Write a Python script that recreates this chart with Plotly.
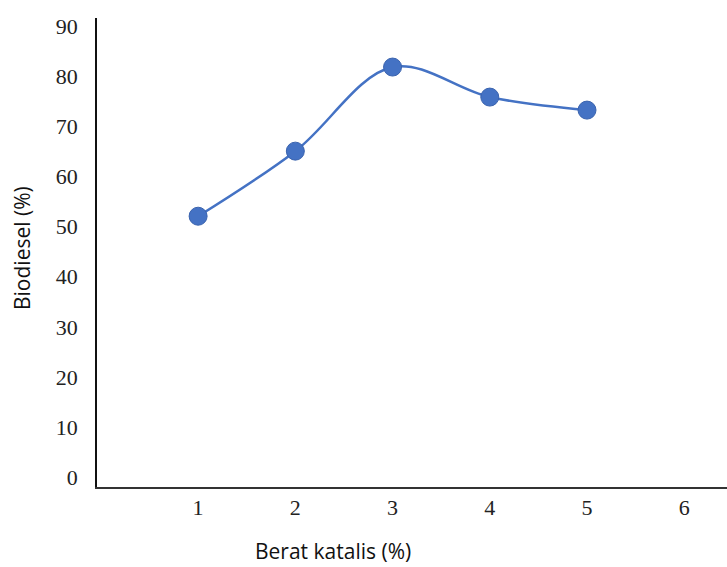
import plotly.graph_objects as go

berat_katalis = [1, 2, 3, 4, 5]
biodiesel = [52.1, 65.1, 81.9, 75.9, 73.3]
y_ticks = [0, 10, 20, 30, 40, 50, 60, 70, 80, 90]
x_ticks = [1, 2, 3, 4, 5, 6]

blue = "#4472C4"

fig = go.Figure()
fig.add_trace(go.Scatter(
    x=berat_katalis, y=biodiesel, mode="lines+markers",
    line=dict(color=blue, width=2.5, shape="spline", smoothing=1.0),
    marker=dict(color=blue, size=18, line=dict(color="#3A63AE", width=1)),
    showlegend=False,
))

serif = "Liberation Serif, Times New Roman, serif"
sans = "Open Sans, Noto Sans, sans-serif"

fig.update_layout(
    width=727, height=567,
    margin=dict(l=97, r=0, t=18, b=80),
    paper_bgcolor="white", plot_bgcolor="white",
    xaxis=dict(
        range=[-0.04, 6.44], tickvals=x_ticks, ticktext=[str(v) for v in x_ticks],
        showgrid=False, zeroline=False, showline=True, linecolor="#333333", linewidth=2,
        ticks="", ticklabelstandoff=0,
        tickfont=dict(family=serif, size=22, color="#222222"),
    ),
    yaxis=dict(
        range=[-2, 91.7], tickvals=y_ticks, ticktext=[str(v) for v in y_ticks],
        showgrid=False, zeroline=False, showline=True, linecolor="#111111", linewidth=1.5,
        ticks="", ticklabelstandoff=13,
        tickfont=dict(family=serif, size=22, color="#222222"),
    ),
    annotations=[
        dict(text="Berat katalis (%)", x=333, y=551, xref="paper", yref="paper",
             showarrow=False, font=dict(family=sans, size=21, color="#111111")),
        dict(text="Biodiesel (%)", x=22, y=248, xref="paper", yref="paper", textangle=-90,
             showarrow=False, font=dict(family=sans, size=21, color="#111111")),
    ],
)

# convert pixel-based annotation positions to paper coordinates
pw = 727 - 97 - 0
ph = 567 - 18 - 80
for a in fig.layout.annotations:
    px, py = a.x, a.y
    a.x = (px - 97) / pw
    a.y = (567 - 80 - py) / ph
    a.xanchor = "center"
    a.yanchor = "middle"

fig.write_html("out.html", config={"displayModeBar": False})

with open("out.html", "r", encoding="utf-8") as f:
    html = f.read()
html = html.replace("<head>", "<head><style>html,body{margin:0;padding:0;overflow:hidden;}</style>", 1)
with open("out.html", "w", encoding="utf-8") as f:
    f.write(html)
